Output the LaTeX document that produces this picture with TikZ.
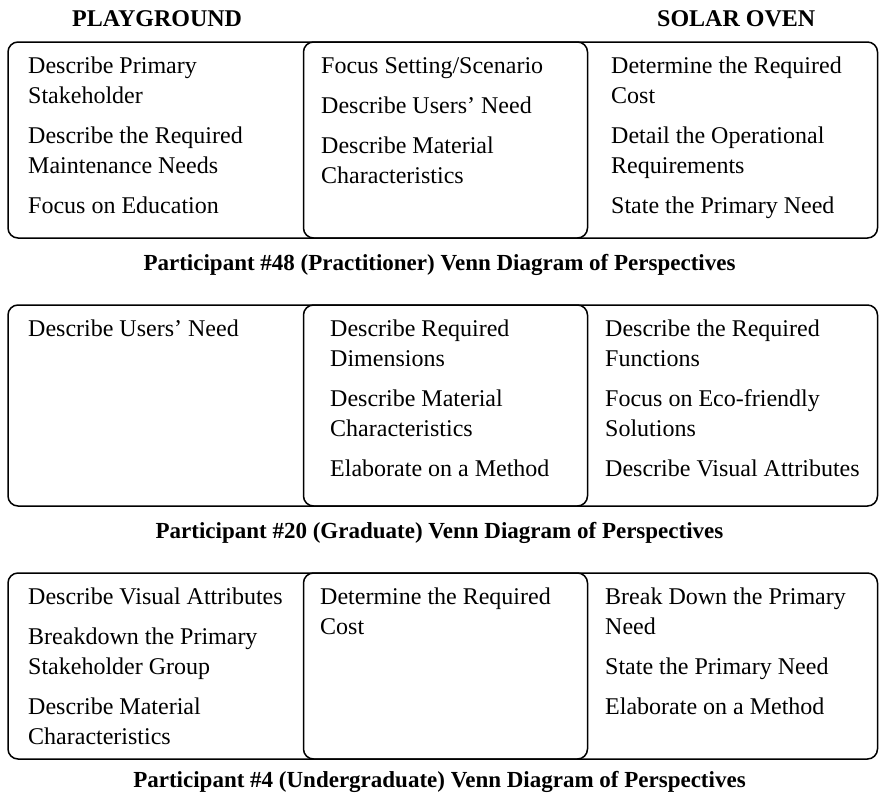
\documentclass[tikz,border=0pt]{standalone}
\usepackage{fontspec}
\setmainfont{Liberation Serif}
\begin{document}
\begin{tikzpicture}[x=1pt,y=-1pt,
  frame/.style={draw=black,line width=1.5pt,rounded corners=10pt},
  item/.style={font=\fontsize{24}{30}\selectfont,anchor=base west,inner sep=0pt},
  caption/.style={font=\fontsize{23}{28}\bfseries\selectfont,anchor=base,inner sep=0pt},
  header/.style={font=\fontsize{24}{28}\bfseries\selectfont,anchor=base west,inner sep=0pt}]
\useasboundingbox (0,0) rectangle (879,796);
% headers
\node[header] (hp) at (72,26) {PLAYGROUND};
\node[header] (hs) at (657,26) {SOLAR OVEN};
% panel 1
\draw[frame] (8,42) rectangle (877.5,238);
\draw[frame] (303.5,42) rectangle (587.5,238);
\node[item] (a1) at (28,73) {Describe Primary};
\node[item] (a2) at (28,103) {Stakeholder};
\node[item] (a3) at (28,143) {Describe the Required};
\node[item] (a4) at (28,173) {Maintenance Needs};
\node[item] (a5) at (28,213) {Focus on Education};
\node[item] (b1) at (321,73) {Focus Setting/Scenario};
\node[item] (b2) at (321,113) {Describe Users’ Need};
\node[item] (b3) at (321,153) {Describe Material};
\node[item] (b4) at (321,183) {Characteristics};
\node[item] (c1) at (611,73) {Determine the Required};
\node[item] (c2) at (611,103) {Cost};
\node[item] (c3) at (611,143) {Detail the Operational};
\node[item] (c4) at (611,173) {Requirements};
\node[item] (c5) at (611,213) {State the Primary Need};
\node[caption] (cap1) at (439.5,270) {Participant \#48 (Practitioner) Venn Diagram of Perspectives};
% panel 2
\draw[frame] (8,305) rectangle (877.5,506);
\draw[frame] (303.5,305) rectangle (587.5,506);
\node[item] (d1) at (28,336) {Describe Users’ Need};
\node[item] (e1) at (330,336) {Describe Required};
\node[item] (e2) at (330,366) {Dimensions};
\node[item] (e3) at (330,406) {Describe Material};
\node[item] (e4) at (330,436) {Characteristics};
\node[item] (e5) at (330,476) {Elaborate on a Method};
\node[item] (f1) at (605,336) {Describe the Required};
\node[item] (f2) at (605,366) {Functions};
\node[item] (f3) at (605,406) {Focus on Eco-friendly};
\node[item] (f4) at (605,436) {Solutions};
\node[item] (f5) at (605,476) {Describe Visual Attributes};
\node[caption] (cap2) at (439.5,538) {Participant \#20 (Graduate) Venn Diagram of Perspectives};
% panel 3
\draw[frame] (8,573) rectangle (877.5,759);
\draw[frame] (303.5,573) rectangle (587.5,759);
\node[item] (g1) at (28,604) {Describe Visual Attributes};
\node[item] (g2) at (28,644) {Breakdown the Primary};
\node[item] (g3) at (28,674) {Stakeholder Group};
\node[item] (g4) at (28,714) {Describe Material};
\node[item] (g5) at (28,744) {Characteristics};
\node[item] (h1) at (320,604) {Determine the Required};
\node[item] (h2) at (320,634) {Cost};
\node[item] (i1) at (605,604) {Break Down the Primary};
\node[item] (i2) at (605,634) {Need};
\node[item] (i3) at (605,674) {State the Primary Need};
\node[item] (i4) at (605,714) {Elaborate on a Method};
\node[caption] (cap3) at (439.5,787) {Participant \#4 (Undergraduate) Venn Diagram of Perspectives};
\end{tikzpicture}
\end{document}
